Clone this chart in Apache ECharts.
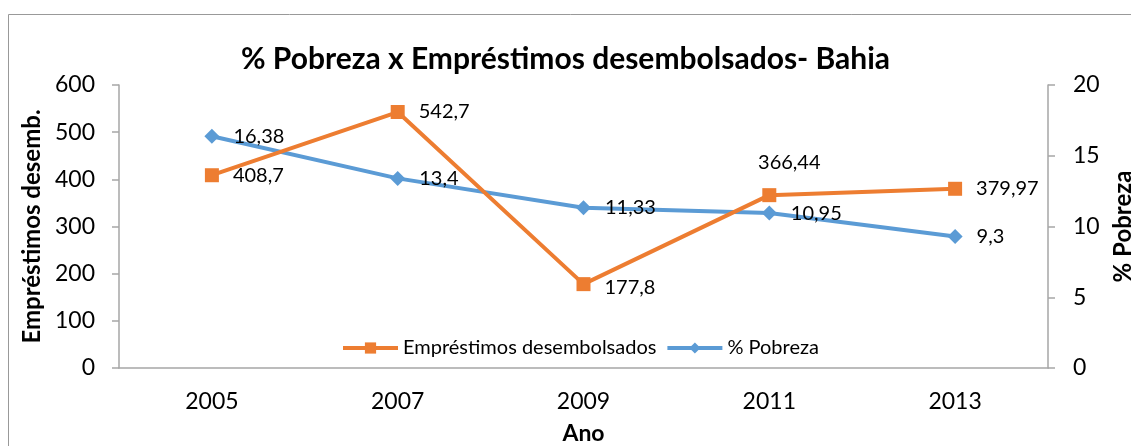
<!DOCTYPE html>
<html>
<head>
<meta charset="utf-8">
<script src="https://cdn.jsdelivr.net/npm/echarts@6/dist/echarts.min.js"></script>
<style>
  html, body { margin: 0; padding: 0; background: #fff; }
  #chart { width: 1131px; height: 446px; }
</style>
</head>
<body>
<div id="chart"></div>
<script>
const anos = ['2005', '2007', '2009', '2011', '2013']
const emprestimos = [408.7, 542.7, 177.8, 366.44, 379.97]
const pobreza = [16.38, 13.4, 11.33, 10.95, 9.3]

const fonte = 'Lato, "Noto Sans", sans-serif'
const corEixo = '#a6a6a6'
const fmt = p => String(p.value).replace('.', ',')

const chart = echarts.init(document.getElementById('chart'))

chart.setOption({
  animation: false,
  textStyle: { fontFamily: fonte },
  title: {
    text: '% Pobreza x Empréstimos desembolsados- Bahia',
    left: 'center',
    top: 39,
    textStyle: { fontFamily: fonte, fontSize: 30, fontWeight: 'bold', color: '#000' }
  },
  graphic: [{
    type: 'rect',
    shape: { x: 8.5, y: 14.5, width: 1200, height: 600 },
    style: { fill: 'none', stroke: '#999', lineWidth: 1 },
    silent: true
  }],
  legend: {
    left: 336,
    top: 333,
    itemWidth: 55,
    itemHeight: 14,
    itemGap: 9,
    lineStyle: { width: 4 },
    textStyle: { fontFamily: fonte, fontSize: 20, color: '#000' },
    data: ['Empréstimos desembolsados', '% Pobreza']
  },
  grid: { left: 119, right: 83, top: 85, bottom: 78, outerBoundsMode: 'none', containLabel: false },
  xAxis: {
    type: 'category',
    data: anos,
    name: 'Ano',
    nameLocation: 'middle',
    nameGap: 54,
    nameTextStyle: { fontFamily: fonte, fontSize: 23, fontWeight: 'bold', color: '#000' },
    axisLine: { lineStyle: { color: corEixo, width: 1.5 } },
    axisTick: { length: 8, lineStyle: { color: corEixo, width: 1.5 } },
    axisLabel: { fontFamily: fonte, fontSize: 23, color: '#000', margin: 22 },
    splitLine: { show: false }
  },
  yAxis: [
    {
      type: 'value',
      min: 0, max: 600, interval: 100,
      name: 'Empréstimos desemb.',
      nameLocation: 'middle',
      nameRotate: 90,
      nameGap: 75,
      nameTextStyle: { fontFamily: fonte, fontSize: 24, fontWeight: 'bold', color: '#000' },
      axisLine: { show: true, lineStyle: { color: corEixo, width: 1.5 } },
      axisTick: { show: true, length: 7, lineStyle: { color: corEixo, width: 1.5 } },
      axisLabel: { fontFamily: fonte, fontSize: 23, color: '#000', margin: 24 },
      splitLine: { show: false }
    },
    {
      type: 'value',
      min: 0, max: 20, interval: 5,
      name: '% Pobreza',
      nameLocation: 'middle',
      nameRotate: 90,
      nameGap: 63,
      nameTextStyle: { fontFamily: fonte, fontSize: 24, fontWeight: 'bold', color: '#000' },
      axisLine: { show: true, lineStyle: { color: corEixo, width: 1.5 } },
      axisTick: { show: true, length: 7, lineStyle: { color: corEixo, width: 1.5 } },
      axisLabel: { fontFamily: fonte, fontSize: 23, color: '#000', margin: 25 },
      splitLine: { show: false }
    }
  ],
  series: [
    {
      name: 'Empréstimos desembolsados',
      type: 'line',
      yAxisIndex: 0,
      data: emprestimos.map((v, i) => i === 3
        ? { value: v, label: { position: 'top', offset: [20, -2] } }
        : i === 2
          ? { value: v, label: { offset: [0, 3] } }
          : v),
      symbol: 'rect',
      symbolSize: 14,
      lineStyle: { color: '#ED7D31', width: 4 },
      itemStyle: { color: '#ED7D31' },
      label: {
        show: true, position: 'right', distance: 14,
        fontFamily: fonte, fontSize: 20, color: '#000',
        formatter: fmt
      },
      z: 3
    },
    {
      name: '% Pobreza',
      type: 'line',
      yAxisIndex: 1,
      data: pobreza,
      symbol: 'diamond',
      symbolSize: [15, 15],
      lineStyle: { color: '#5B9BD5', width: 4 },
      itemStyle: { color: '#5B9BD5' },
      label: {
        show: true, position: 'right', distance: 14,
        fontFamily: fonte, fontSize: 20, color: '#000',
        formatter: fmt
      },
      z: 2
    }
  ]
})
</script>
</body>
</html>
